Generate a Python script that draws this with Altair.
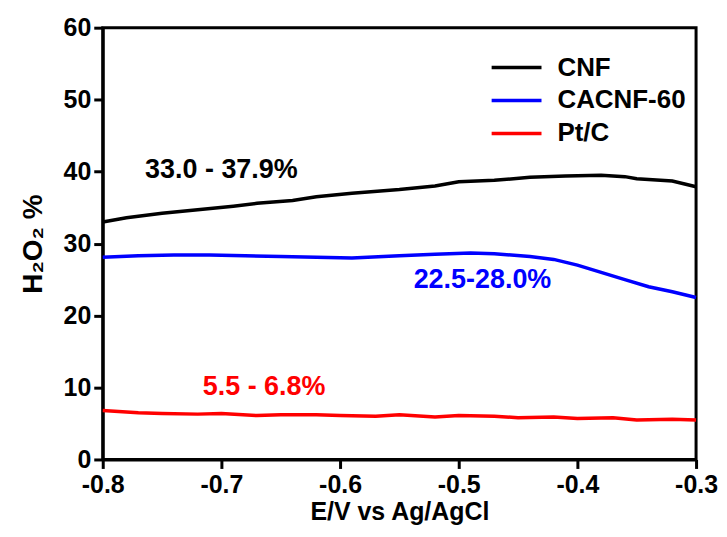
import altair as alt
import pandas as pd

FONT = "Liberation Sans, Arial, sans-serif"

# CNF (black)
cnf_x = [-0.80, -0.78, -0.75, -0.72, -0.69, -0.67, -0.64, -0.62, -0.59, -0.55, -0.52, -0.50, -0.47, -0.44, -0.41, -0.38, -0.36, -0.35, -0.33, -0.32, -0.30]
cnf_y = [33.0, 33.6, 34.2, 34.7, 35.2, 35.6, 36.0, 36.5, 37.0, 37.5, 38.0, 38.6, 38.8, 39.2, 39.4, 39.5, 39.3, 39.0, 38.8, 38.7, 37.9]

# CACNF-60 (blue)
cac_x = [-0.80, -0.77, -0.74, -0.71, -0.68, -0.65, -0.62, -0.59, -0.55, -0.52, -0.49, -0.47, -0.44, -0.42, -0.40, -0.38, -0.36, -0.34, -0.32, -0.30]
cac_y = [28.1, 28.3, 28.4, 28.4, 28.3, 28.2, 28.1, 28.0, 28.3, 28.5, 28.7, 28.6, 28.2, 27.8, 27.0, 26.0, 25.0, 24.0, 23.3, 22.5]

# Pt/C (red)
pt_x = [-0.80, -0.77, -0.75, -0.72, -0.70, -0.67, -0.65, -0.62, -0.60, -0.57, -0.55, -0.52, -0.50, -0.47, -0.45, -0.42, -0.40, -0.37, -0.35, -0.32, -0.30]
pt_y = [6.8, 6.5, 6.4, 6.3, 6.4, 6.1, 6.2, 6.2, 6.1, 6.0, 6.2, 5.9, 6.1, 6.0, 5.8, 5.9, 5.7, 5.8, 5.5, 5.6, 5.5]

series_names = ["CNF", "CACNF-60", "Pt/C"]
series_colors = ["#000000", "#0000ff", "#ff0000"]

ann_text = ["33.0 - 37.9%", "22.5-28.0%", "5.5 - 6.8%"]
ann_x = [-0.70, -0.48, -0.664]
ann_y = [40.2, 24.9, 10.0]
ann_series = ["CNF", "CACNF-60", "Pt/C"]

x_ticks = [-0.8, -0.7, -0.6, -0.5, -0.4, -0.3]
y_ticks = [0, 10, 20, 30, 40, 50, 60]

rows = []
for name, xs, ys in [("CNF", cnf_x, cnf_y), ("CACNF-60", cac_x, cac_y), ("Pt/C", pt_x, pt_y)]:
    for i, (a, b) in enumerate(zip(xs, ys)):
        rows.append({"E": a, "H2O2": b, "series": name, "order": i})
df = pd.DataFrame(rows)
ann = pd.DataFrame({"E": ann_x, "H2O2": ann_y, "text": ann_text, "series": ann_series})

xscale = alt.Scale(domain=[-0.8, -0.3], nice=False, zero=False)
yscale = alt.Scale(domain=[0, 60], nice=False)
color = alt.Scale(domain=series_names, range=series_colors)

lines = alt.Chart(df).mark_line(strokeWidth=3.5).encode(
    x=alt.X("E:Q", scale=xscale,
            axis=alt.Axis(title="E/V vs Ag/AgCl", values=x_ticks,
                          labelExpr="replace(format(datum.value, '.1f'), '−', '-')",
                          labelFlush=False, grid=False, labelFontSize=25,
                          labelPadding=4)),
    y=alt.Y("H2O2:Q", scale=yscale,
            axis=alt.Axis(title="H₂O₂ %", values=y_ticks, grid=False, labelFontSize=25)),
    color=alt.Color("series:N", scale=color, sort=series_names,
                    legend=alt.Legend(title=None, orient="none", legendX=388, legendY=28,
                                      symbolType="stroke", symbolSize=2500,
                                      symbolStrokeWidth=3.5, labelFontSize=26,
                                      labelFont=FONT, labelFontWeight="bold",
                                      labelColor="#000000", clipHeight=24,
                                      rowPadding=7, labelOffset=14)),
    order="order:Q",
)

texts = alt.Chart(ann).mark_text(font=FONT, fontSize=27, fontWeight="bold").encode(
    x=alt.X("E:Q", scale=xscale),
    y=alt.Y("H2O2:Q", scale=yscale),
    text="text:N",
    color=alt.Color("series:N", scale=color, legend=None),
)

chart = alt.layer(lines, texts).properties(
    width=595, height=433,
    autosize=alt.AutoSizeParams(type="none"),
    padding={"left": 95, "top": 19, "right": 23, "bottom": 69},
).configure_view(
    stroke="#000000", strokeWidth=3,
).configure_axis(
    domainColor="#000000", domainWidth=3, tickColor="#000000", tickWidth=3,
    tickSize=9, labelFont=FONT, labelFontWeight="bold",
    labelColor="#000000", titleFont=FONT, titleFontWeight="bold",
    titleColor="#000000", labelPadding=3,
).configure_axisX(
    titleFontSize=25, titlePadding=2,
).configure_axisY(
    titleFontSize=28, titlePadding=16,
)

chart.save("out.html", embed_options={"renderer": "svg", "actions": False})
